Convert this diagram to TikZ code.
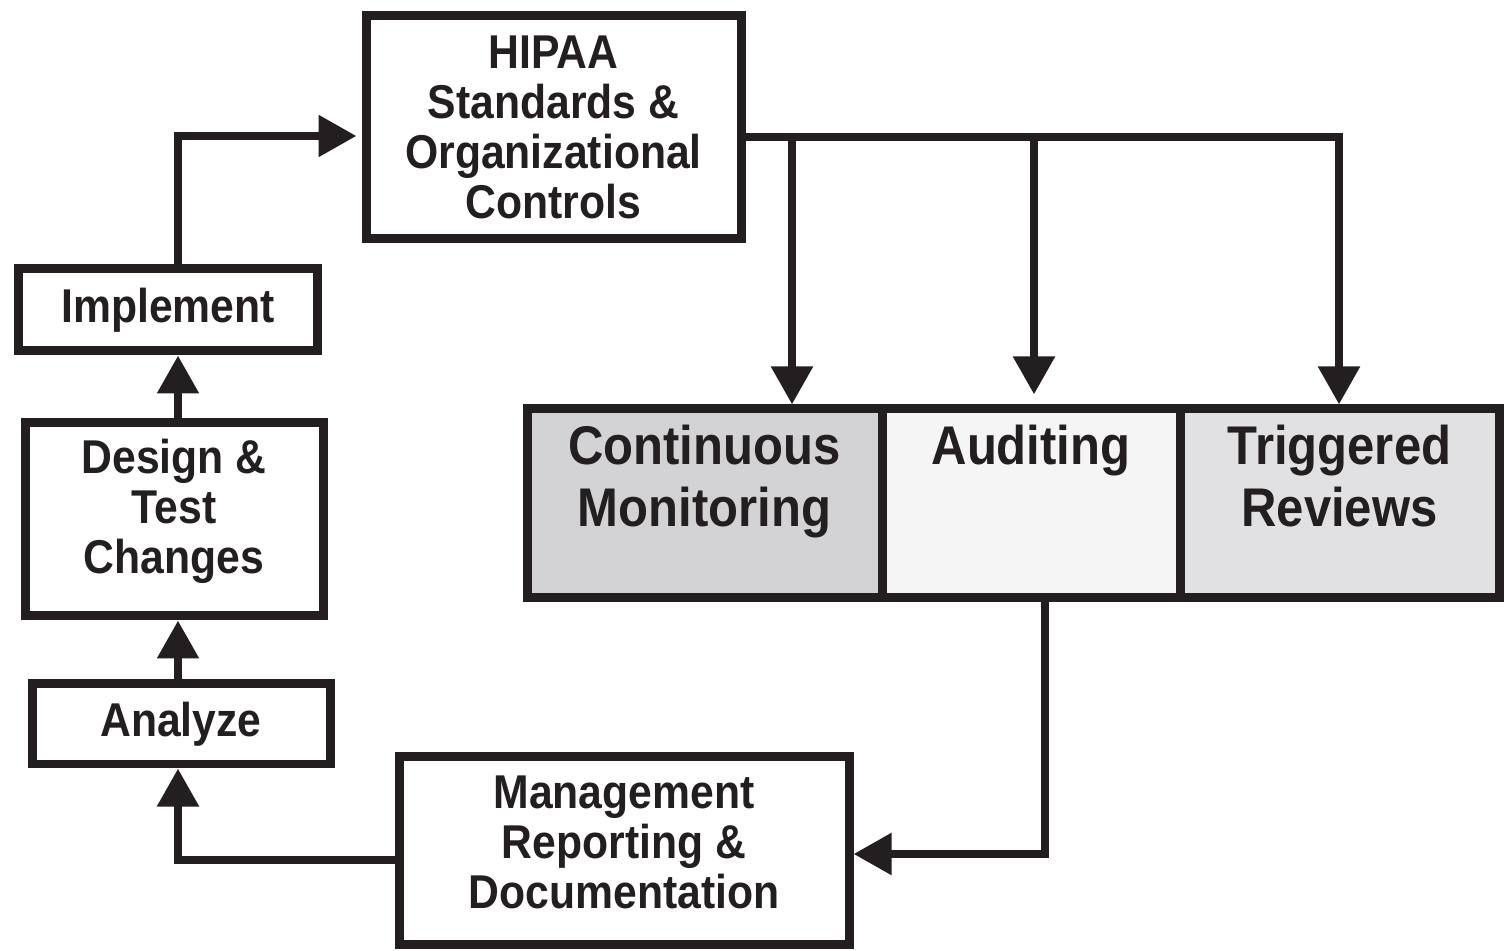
\documentclass[tikz,border=0pt]{standalone}
\usepackage{fontspec}
\newfontfamily\figfont{Liberation Sans Bold}[FakeStretch=0.9]
\usetikzlibrary{arrows.meta,calc}
\definecolor{ink}{HTML}{231F20}
\definecolor{cmfill}{HTML}{D3D3D6}
\definecolor{audfill}{HTML}{F5F5F5}
\definecolor{trfill}{HTML}{E1E1E3}
\newcommand\smalltxt{\figfont\fontsize{13.5}{14.2}\selectfont}
\newcommand\bigtxtfont{\figfont\fontsize{15.5}{17.6}\selectfont}
\tikzset{
  box/.style={draw=ink, line width=0.09cm, inner sep=0pt, align=center, font=\smalltxt, text=ink},
  cell/.style={draw=ink, line width=0.09cm, inner sep=0pt},
  bigtxt/.style={font=\bigtxtfont, text=ink, align=center, inner sep=0pt, anchor=north},
  conn/.style={draw=ink, line width=0.085cm, -{Triangle[length=0.38cm,width=0.40cm]}},
}
\begin{document}
\begin{tikzpicture}
\useasboundingbox (0,0) rectangle (15.05,-9.51);
% boxes
\node[box, minimum width=3.75cm, minimum height=2.23cm] (hipaa) at (5.535,-1.275)
  {HIPAA\\Standards \&\\Organizational\\Controls};
\node[box, minimum width=2.98cm, minimum height=0.82cm] (impl) at (1.68,-3.10) {Implement\rule[-0.06cm]{0pt}{0pt}};
\node[box, minimum width=2.98cm, minimum height=1.93cm] (design) at (1.74,-5.195)
  {Design \&\\Test\\Changes\rule[-0.27cm]{0pt}{0pt}};
\node[box, minimum width=2.98cm, minimum height=0.80cm] (analyze) at (1.81,-7.24) {Analyze};
\node[box, minimum width=4.50cm, minimum height=1.87cm] (mgmt) at (6.24,-8.505)
  {Management\\Reporting \&\\Documentation\rule[-0.16cm]{0pt}{0pt}};
% cells
\node[cell, fill=cmfill, minimum width=3.55cm, minimum height=1.89cm] (cm) at (7.045,-5.035) {};
\node[cell, fill=audfill, minimum width=2.98cm, minimum height=1.89cm] (aud) at (10.31,-5.035) {};
\node[cell, fill=trfill, minimum width=3.19cm, minimum height=1.89cm] (tr) at (13.395,-5.035) {};
\node[bigtxt] (cmtxt) at ([yshift=-0.20cm]cm.north) {Continuous\\Monitoring};
\node[bigtxt] (audtxt) at ([yshift=-0.20cm]aud.north) {Auditing};
\node[bigtxt] (trtxt) at ([yshift=-0.20cm]tr.north) {Triggered\\Reviews};
% helper coordinates
\coordinate (col) at (1.78,0);
\coordinate (hy) at (0,-1.37);
\coordinate (iy) at (0,-1.36);
\coordinate (b1) at (7.92,0);
\coordinate (b2) at (10.34,0);
\coordinate (b3) at (13.39,0);
\coordinate (ax) at (10.45,0);
\coordinate (my) at (0,-8.54);
\coordinate (ly) at (0,-8.60);
% connectors
\draw[conn] (impl.north -| col) |- ([xshift=-0.05cm]hipaa.west |- iy);
\draw[conn] (design.north -| col) -- (impl.south -| col);
\draw[conn] (analyze.north -| col) -- (design.south -| col);
\draw[conn] (mgmt.west |- ly) -| (analyze.south -| col);
\draw[conn] (hipaa.east |- hy) -| (tr.north -| b3);
\draw[conn] (b1 |- hy) -- (cm.north -| b1);
\draw[conn, shorten >=0.1cm] (b2 |- hy) -- (aud.north -| b2);
\draw[conn] (aud.south -| ax) |- (mgmt.east |- my);
\end{tikzpicture}
\end{document}
